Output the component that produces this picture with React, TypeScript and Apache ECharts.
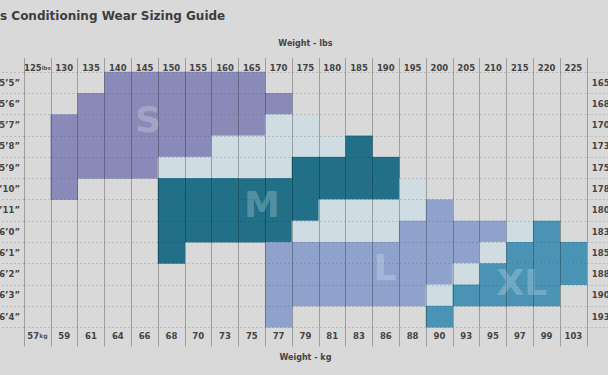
import React, { useEffect, useRef } from "react";
import * as echarts from "echarts";

const weightLbs = ["125", "130", "135", "140", "145", "150", "155", "160", "165", "170", "175", "180", "185", "190", "195", "200", "205", "210", "215", "220", "225"];
const weightKg = ["57", "59", "61", "64", "66", "68", "70", "73", "75", "77", "79", "81", "83", "86", "88", "90", "93", "95", "97", "99", "103"];
const heights = ["5’5”", "5’6”", "5’7”", "5’8”", "5’9”", "5’10”", "5’11”", "6’0”", "6’1”", "6’2”", "6’3”", "6’4”"];
const heightsCm = ["165", "168", "170", "173", "175", "178", "180", "183", "185", "188", "190", "193"];

// cell codes: "." none, S, M, L, X (XL), "+" in-between size
const sizeRows = [
  "...SSSSSS............",
  "..SSSSSSSS...........",
  ".SSSSSSSS++..........",
  ".SSSSSS+++++M........",
  ".SSSS+++++MMMM.......",
  ".S...MMMMMMMMM+......",
  ".....MMMMMM++++L.....",
  ".....MMMMM++++LLLL+X.",
  ".....M...LLLLLLLL+XXX",
  ".........LLLLLLL+XXXX",
  ".........LLLLLL+XXXX.",
  ".........L.....X.....",
];
const sizeCodes = ["S", "M", "+", "L", "X"];
const sizeColors = ["#8a8ab8", "#217088", "#cfdce2", "#8fa2cc", "#4a93b5"];

// big size captions, in grid units (columns, rows)
const sizeLabels = [
  { text: "S", x: 4.63, y: 2.24 },
  { text: "M", x: 8.88, y: 6.24 },
  { text: "L", x: 13.47, y: 9.2 },
  { text: "XL", x: 18.58, y: 9.9 },
];

const FONT = "DejaVu Sans";
const LABEL = "#444444";
const VLINE = "rgba(0,0,0,0.27)";
const HLINE = "rgba(0,0,0,0.13)";

export default function App() {
  const ref = useRef<HTMLDivElement>(null);
  useEffect(() => {
    if (!ref.current) return;
    const chart = echarts.init(ref.current, null, { renderer: "svg" });
    const cells: any[] = [];
    sizeRows.forEach((row, r) => {
      row.split("").forEach((ch, c) => {
        const k = sizeCodes.indexOf(ch);
        if (k >= 0) cells.push([c, r, k]);
      });
    });
    const labelBase = { color: LABEL, fontFamily: FONT, fontWeight: "bold" as const, fontSize: 8.5 };
    chart.setOption({
      animation: false,
      backgroundColor: "#d9d9d9",
      title: {
        text: "s Conditioning Wear Sizing Guide",
        left: 0,
        top: 10,
        padding: 0,
        textStyle: { color: "#3d3d3d", fontFamily: FONT, fontWeight: "bold", fontSize: 12 },
      },
      grid: { left: 24, right: 21.2, top: 72, bottom: 47.7, containLabel: false, outerBoundsMode: "none" },
      visualMap: {
        type: "piecewise",
        show: false,
        seriesIndex: 0,
        dimension: 2,
        pieces: sizeColors.map((color, i) => ({ value: i, color })),
      },
      xAxis: [
        {
          type: "category",
          data: weightLbs,
          position: "top",
          z: 10,
          axisLine: { show: false },
          axisTick: { show: true, length: 14, lineStyle: { color: VLINE } },
          splitLine: { show: true, lineStyle: { color: VLINE, width: 1 } },
          axisLabel: {
            interval: 0,
            margin: 0,
            formatter: (v: string, i: number) => (i === 0 ? `{n|${v}}{u|lbs}` : `{n|${v}}`),
            rich: { n: { ...labelBase }, u: { ...labelBase, fontSize: 5.5, color: "#555" } },
          },
          name: "Weight - lbs",
          nameLocation: "middle",
          nameGap: 25,
          nameTextStyle: { ...labelBase, fontSize: 8 },
        },
        {
          type: "category",
          data: weightKg,
          position: "bottom",
          axisLine: { show: false },
          axisTick: { show: true, length: 19, lineStyle: { color: VLINE } },
          splitLine: { show: false },
          axisLabel: {
            interval: 0,
            margin: 4,
            formatter: (v: string, i: number) => (i === 0 ? `{n|${v}}{u|kg}` : `{n|${v}}`),
            rich: { n: { ...labelBase }, u: { ...labelBase, fontSize: 6, color: "#555" } },
          },
          name: "Weight - kg",
          nameLocation: "middle",
          nameGap: 26,
          nameTextStyle: { ...labelBase, fontSize: 8 },
        },
        { type: "value", min: 0, max: weightLbs.length, show: false },
      ],
      yAxis: [
        {
          type: "category",
          data: heights,
          inverse: true,
          z: 10,
          axisLine: { show: false },
          axisTick: { show: true, length: 24, lineStyle: { color: HLINE, type: [2, 2] } },
          splitLine: { show: true, lineStyle: { color: HLINE, type: [2, 2] } },
          axisLabel: { interval: 0, margin: 4, ...labelBase },
        },
        {
          type: "category",
          data: heightsCm,
          inverse: true,
          position: "right",
          axisLine: { show: false },
          axisTick: { show: true, length: 22, lineStyle: { color: HLINE, type: [2, 2] } },
          splitLine: { show: false },
          axisLabel: { interval: 0, margin: 5, ...labelBase },
        },
        { type: "value", min: 0, max: heights.length, inverse: true, show: false },
      ],
      series: [
        {
          type: "heatmap",
          xAxisIndex: 0,
          yAxisIndex: 0,
          data: cells,
          emphasis: { disabled: true },
          silent: true,
        },
        {
          type: "scatter",
          xAxisIndex: 2,
          yAxisIndex: 2,
          symbolSize: 0,
          silent: true,
          z: 20,
          data: sizeLabels.map((l) => ({ name: l.text, value: [l.x, l.y] })),
          label: {
            show: true,
            position: "inside",
            formatter: (p: any) => p.name,
            color: "rgba(255,255,255,0.3)",
            fontFamily: FONT,
            fontWeight: "bold",
            fontSize: 36,
          },
        },
      ],
    });
    return () => chart.dispose();
  }, []);
  return <div ref={ref} style={{ position: "fixed", left: 0, top: 0, width: 608, height: 375 }} />;
}
